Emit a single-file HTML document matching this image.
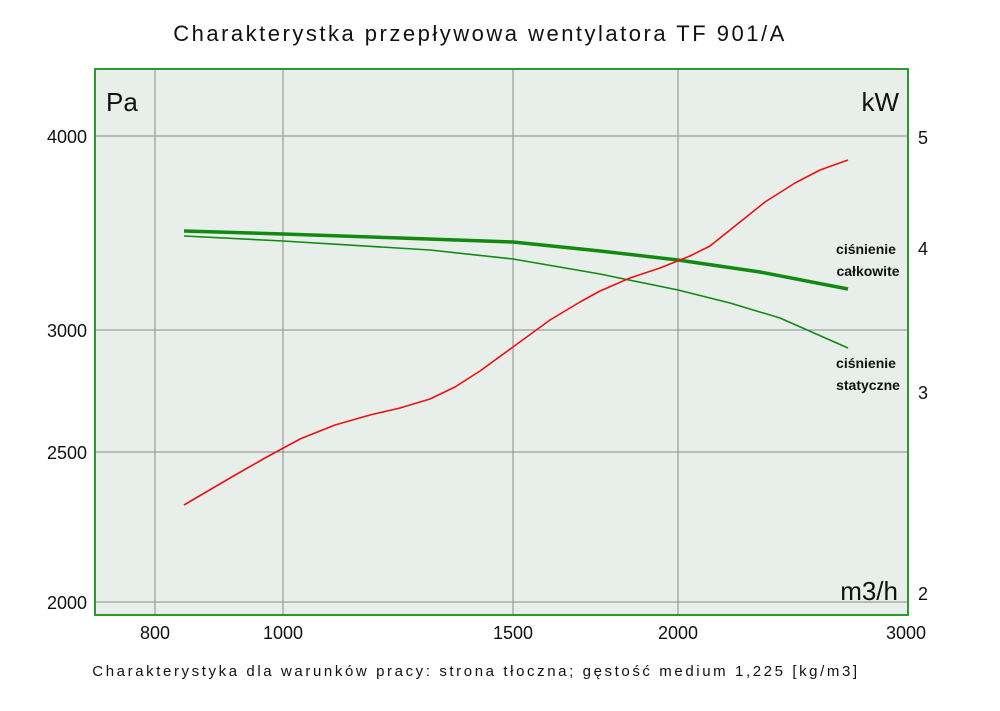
<!DOCTYPE html>
<html><head><meta charset="utf-8"><style>
body{margin:0;background:#fff;}
svg text{font-family:"Liberation Sans","DejaVu Sans",sans-serif;fill:#111;}
</style></head><body>
<svg width="1000" height="706" xmlns="http://www.w3.org/2000/svg">
<rect x="0" y="0" width="1000" height="706" fill="#fff"/>
<text x="480" y="41" font-size="22" text-anchor="middle" letter-spacing="2.5">Charakterystka przepływowa wentylatora TF 901/A</text>
<rect x="95" y="69" width="813" height="546" fill="#e8eeea"/>
<g stroke="#8a8a8a" stroke-width="1">
<line x1="155" y1="69" x2="155" y2="615"/>
<line x1="283" y1="69" x2="283" y2="615"/>
<line x1="513" y1="69" x2="513" y2="615"/>
<line x1="678" y1="69" x2="678" y2="615"/>
<line x1="95" y1="136" x2="908" y2="136"/>
<line x1="95" y1="330" x2="908" y2="330"/>
<line x1="95" y1="452" x2="908" y2="452"/>
<line x1="95" y1="602" x2="908" y2="602"/>
</g>
<rect x="95" y="69" width="813" height="546" fill="none" stroke="#2a9a2a" stroke-width="2"/>
<text x="106" y="111" font-size="26">Pa</text>
<text x="899" y="111" font-size="26" text-anchor="end">kW</text>
<text x="898" y="600" font-size="26" text-anchor="end">m3/h</text>
<g font-size="18" text-anchor="end">
<text x="87" y="143">4000</text><text x="87" y="337">3000</text><text x="87" y="459">2500</text><text x="87" y="609">2000</text>
</g>
<g font-size="18">
<text x="918" y="144">5</text><text x="918" y="255">4</text><text x="918" y="399">3</text><text x="918" y="600">2</text>
</g>
<g font-size="18" text-anchor="middle">
<text x="155" y="639">800</text><text x="283" y="639">1000</text><text x="513" y="639">1500</text><text x="678" y="639">2000</text><text x="906" y="639">3000</text>
</g>
<polyline fill="none" stroke="#108a10" stroke-width="3.5" stroke-linejoin="round" points="184,231 283,234 400,238 513,242 600,251 678,260 760,272 848,289"/>
<polyline fill="none" stroke="#108a10" stroke-width="1.6" stroke-linejoin="round" points="184,236 283,241 430,250 513,259 600,274 678,290 730,303 780,318 848,348"/>
<polyline fill="none" stroke="#ee1111" stroke-width="1.6" stroke-linejoin="round" points="184,505 230,478 265,458 300,439 335,425 370,415 400,408 430,399 455,387 480,371 513,347 550,320 580,302 600,291 630,278 660,268 690,256 710,246 730,230 765,202 795,183 820,170 848,160"/>
<g font-size="14" font-weight="bold" text-anchor="middle">
<text x="866" y="254">ciśnienie</text><text x="868" y="276">całkowite</text>
<text x="866" y="368">ciśnienie</text><text x="868" y="390">statyczne</text>
</g>
<text x="476" y="676" font-size="15" text-anchor="middle" letter-spacing="2.6">Charakterystyka dla warunków pracy: strona tłoczna; gęstość medium 1,225 [kg/m3]</text>
</svg>
</body></html>
